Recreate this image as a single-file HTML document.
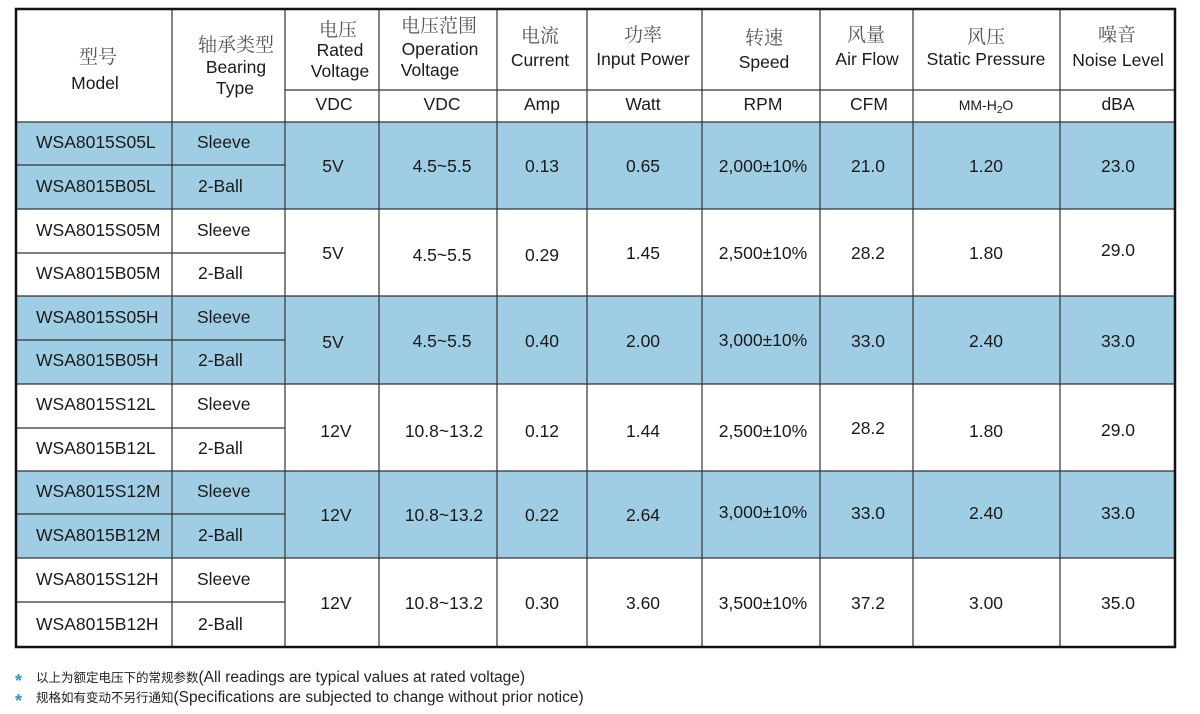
<!DOCTYPE html>
<html><head><meta charset="utf-8"><style>
html,body{margin:0;padding:0;background:#fff;}
svg{display:block;}
text{font-family:"Liberation Sans","Noto Sans CJK SC",sans-serif;fill:#1a1a1a;font-size:17.5px;}
.cn{font-family:"Noto Serif CJK SC","Liberation Serif",serif;fill:#555;font-size:19px;}
.c{text-anchor:middle;}
.note{font-size:15.5px;fill:#222;}
.notecn{font-family:"Noto Sans CJK SC",sans-serif;font-size:12.5px;fill:#222;}
</style></head><body>
<svg width="1200" height="714" viewBox="0 0 1200 714" xmlns="http://www.w3.org/2000/svg">
<g fill="#9fcde3">
<rect x="15" y="122" width="1161" height="87"/>
<rect x="15" y="296" width="1161" height="88"/>
<rect x="15" y="471" width="1161" height="87"/>
</g>
<g stroke="#333" stroke-width="1.2" fill="none">
<line x1="172" y1="8" x2="172" y2="647"/>
<line x1="285" y1="8" x2="285" y2="647"/>
<line x1="379" y1="8" x2="379" y2="647"/>
<line x1="497" y1="8" x2="497" y2="647"/>
<line x1="587" y1="8" x2="587" y2="647"/>
<line x1="702" y1="8" x2="702" y2="647"/>
<line x1="820" y1="8" x2="820" y2="647"/>
<line x1="913" y1="8" x2="913" y2="647"/>
<line x1="1060" y1="8" x2="1060" y2="647"/>
<line x1="285" y1="90" x2="1176" y2="90"/>
<line x1="15" y1="122" x2="1176" y2="122"/>
<line x1="15" y1="209" x2="1176" y2="209"/>
<line x1="15" y1="296" x2="1176" y2="296"/>
<line x1="15" y1="384" x2="1176" y2="384"/>
<line x1="15" y1="471" x2="1176" y2="471"/>
<line x1="15" y1="558" x2="1176" y2="558"/>
<line x1="15" y1="165" x2="285" y2="165"/>
<line x1="15" y1="253" x2="285" y2="253"/>
<line x1="15" y1="340" x2="285" y2="340"/>
<line x1="15" y1="428" x2="285" y2="428"/>
<line x1="15" y1="514" x2="285" y2="514"/>
<line x1="15" y1="602" x2="285" y2="602"/>
</g>
<rect x="16" y="9" width="1159" height="638" fill="none" stroke="#111" stroke-width="2.5"/>

<text class="cn c" x="98" y="63">型号</text>
<text class="c" x="95" y="89">Model</text>
<text class="cn c" x="236" y="51">轴承类型</text>
<text class="c" x="236" y="73">Bearing</text>
<text class="c" x="235" y="94">Type</text>
<text class="cn c" x="338" y="36">电压</text>
<text class="c" x="340" y="56">Rated</text>
<text class="c" x="340" y="77">Voltage</text>
<text class="cn c" x="439" y="32">电压范围</text>
<text class="c" x="440" y="55">Operation</text>
<text class="c" x="430" y="76">Voltage</text>
<text class="cn c" x="540" y="42">电流</text>
<text class="c" x="540" y="66">Current</text>
<text class="cn c" x="643" y="41">功率</text>
<text class="c" x="643" y="65">Input Power</text>
<text class="cn c" x="764" y="44">转速</text>
<text class="c" x="764" y="68">Speed</text>
<text class="cn c" x="866" y="41">风量</text>
<text class="c" x="867" y="65">Air Flow</text>
<text class="cn c" x="986" y="43">风压</text>
<text class="c" x="986" y="65">Static Pressure</text>
<text class="cn c" x="1117" y="41">噪音</text>
<text class="c" x="1118" y="66">Noise Level</text>

<text class="c" x="334" y="110">VDC</text>
<text class="c" x="442" y="110">VDC</text>
<text class="c" x="542" y="110">Amp</text>
<text class="c" x="643" y="110">Watt</text>
<text class="c" x="763" y="110">RPM</text>
<text class="c" x="869" y="110">CFM</text>
<text class="c" x="986" y="110" style="font-size:14px">MM-H<tspan font-size="10" dy="3">2</tspan><tspan dy="-3">O</tspan></text>
<text class="c" x="1118" y="110">dBA</text>

<g>
<text x="36" y="148">WSA8015S05L</text><text x="197" y="148">Sleeve</text>
<text x="36" y="192">WSA8015B05L</text><text x="198" y="192">2-Ball</text>
<text x="36" y="236">WSA8015S05M</text><text x="197" y="236">Sleeve</text>
<text x="36" y="279">WSA8015B05M</text><text x="198" y="279">2-Ball</text>
<text x="36" y="323">WSA8015S05H</text><text x="197" y="323">Sleeve</text>
<text x="36" y="366">WSA8015B05H</text><text x="198" y="366">2-Ball</text>
<text x="36" y="410">WSA8015S12L</text><text x="197" y="410">Sleeve</text>
<text x="36" y="454">WSA8015B12L</text><text x="198" y="454">2-Ball</text>
<text x="36" y="497">WSA8015S12M</text><text x="197" y="497">Sleeve</text>
<text x="36" y="541">WSA8015B12M</text><text x="198" y="541">2-Ball</text>
<text x="36" y="585">WSA8015S12H</text><text x="197" y="585">Sleeve</text>
<text x="36" y="630">WSA8015B12H</text><text x="198" y="630">2-Ball</text>
</g>

<g>
<text class="c" x="333" y="172">5V</text><text class="c" x="442" y="172">4.5~5.5</text><text class="c" x="542" y="172">0.13</text><text class="c" x="643" y="172">0.65</text><text class="c" x="763" y="172">2,000±10%</text><text class="c" x="868" y="172">21.0</text><text class="c" x="986" y="172">1.20</text><text class="c" x="1118" y="172">23.0</text>
<text class="c" x="333" y="259">5V</text><text class="c" x="442" y="261">4.5~5.5</text><text class="c" x="542" y="261">0.29</text><text class="c" x="643" y="259">1.45</text><text class="c" x="763" y="259">2,500±10%</text><text class="c" x="868" y="259">28.2</text><text class="c" x="986" y="259">1.80</text><text class="c" x="1118" y="256">29.0</text>
<text class="c" x="333" y="348">5V</text><text class="c" x="442" y="347">4.5~5.5</text><text class="c" x="542" y="347">0.40</text><text class="c" x="643" y="347">2.00</text><text class="c" x="763" y="346">3,000±10%</text><text class="c" x="868" y="347">33.0</text><text class="c" x="986" y="347">2.40</text><text class="c" x="1118" y="347">33.0</text>
<text class="c" x="336" y="437">12V</text><text class="c" x="444" y="437">10.8~13.2</text><text class="c" x="542" y="437">0.12</text><text class="c" x="643" y="437">1.44</text><text class="c" x="763" y="437">2,500±10%</text><text class="c" x="868" y="434">28.2</text><text class="c" x="986" y="437">1.80</text><text class="c" x="1118" y="436">29.0</text>
<text class="c" x="336" y="521">12V</text><text class="c" x="444" y="521">10.8~13.2</text><text class="c" x="542" y="521">0.22</text><text class="c" x="643" y="521">2.64</text><text class="c" x="763" y="518">3,000±10%</text><text class="c" x="868" y="519">33.0</text><text class="c" x="986" y="519">2.40</text><text class="c" x="1118" y="519">33.0</text>
<text class="c" x="336" y="609">12V</text><text class="c" x="444" y="609">10.8~13.2</text><text class="c" x="542" y="609">0.30</text><text class="c" x="643" y="609">3.60</text><text class="c" x="763" y="609">3,500±10%</text><text class="c" x="868" y="609">37.2</text><text class="c" x="986" y="609">3.00</text><text class="c" x="1118" y="609">35.0</text>
</g>

<text x="15" y="687" style="fill:#3a8fd0;font-size:18px;font-weight:bold">*</text>
<text x="36" y="682"><tspan class="notecn">以上为额定电压下的常规参数</tspan><tspan class="note">(All readings are typical values at rated voltage)</tspan></text>
<text x="15" y="707" style="fill:#3a8fd0;font-size:18px;font-weight:bold">*</text>
<text x="36" y="702"><tspan class="notecn">规格如有变动不另行通知</tspan><tspan class="note">(Specifications are subjected to change without prior notice)</tspan></text>
</svg>
</body></html>
